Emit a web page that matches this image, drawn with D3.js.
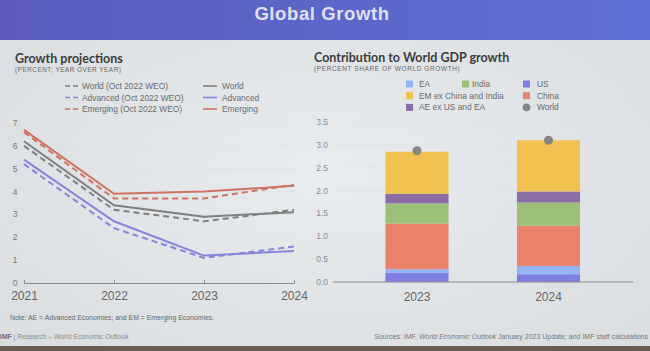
<!DOCTYPE html>
<html>
<head>
<meta charset="utf-8">
<script src="https://cdn.jsdelivr.net/npm/d3@7"></script>
<style>
  body { margin: 0; background: #e2e6e8; }
  svg { display: block; font-family: "Liberation Sans", Arial, sans-serif; }
</style>
</head>
<body>
<div id="chart"></div>
<script>
// Slide: Global Growth (IMF WEO Jan 2023)
// left = growth projections lines, right = contribution stacked bars

const years = ["2021", "2022", "2023", "2024"];
const world = [6.2, 3.4, 2.9, 3.1];
const advanced = [5.4, 2.7, 1.2, 1.4];
const emerging = [6.7, 3.9, 4.0, 4.25];
const worldOct = [6.0, 3.2, 2.7, 3.2];
const advancedOct = [5.2, 2.4, 1.1, 1.6];
const emergingOct = [6.6, 3.7, 3.7, 4.3];
const growthTicks = [0, 1, 2, 3, 4, 5, 6, 7];

const barYears = ["2023", "2024"];
const stackKeys = ["US", "EA", "China", "India", "AE ex US and EA", "EM ex China and India"];
const usShare = [0.20, 0.17];
const eaShare = [0.08, 0.18];
const chinaShare = [1.00, 0.88];
const indiaShare = [0.44, 0.51];
const aeShare = [0.21, 0.24];
const emShare = [0.92, 1.12];
const worldTotal = [2.87, 3.10];
const shareTicks = [0, 0.5, 1, 1.5, 2, 2.5, 3, 3.5];

const W = 650, H = 351;

const svg = d3.select("#chart").append("svg")
  .attr("width", W)
  .attr("height", H);

const defs = svg.append("defs");
const bg = defs.append("radialGradient").attr("id", "bg")
  .attr("cx", "50%").attr("cy", "50%").attr("r", "70%");
bg.append("stop").attr("offset", "0%").attr("stop-color", "#e9ecee");
bg.append("stop").attr("offset", "100%").attr("stop-color", "#d9dddf");
const ban = defs.append("linearGradient").attr("id", "ban");
ban.append("stop").attr("offset", "0%").attr("stop-color", "#5b5cbc");
ban.append("stop").attr("offset", "100%").attr("stop-color", "#5f70d6");

svg.append("rect").attr("width", W).attr("height", H).attr("fill", "url(#bg)");
svg.append("rect").attr("width", W).attr("height", 40).attr("fill", "url(#ban)");
svg.append("rect").attr("y", 346).attr("width", W).attr("height", 5).attr("fill", "#6b5c52");

svg.append("text")
  .attr("x", 322).attr("y", 20)
  .attr("text-anchor", "middle")
  .style("font-size", "18.5px")
  .style("font-weight", "bold")
  .style("letter-spacing", "0.6px")
  .attr("fill", "#dfe1ec")
  .text("Global Growth");

// ---------- left: growth projections ----------
svg.append("text")
  .attr("x", 15).attr("y", 63)
  .style("font-family", "Lato, 'Open Sans', sans-serif")
  .style("font-size", "12.5px")
  .style("font-weight", "bold")
  .attr("fill", "#3c3c3c")
  .text("Growth projections");

svg.append("text")
  .attr("x", 15).attr("y", 72)
  .style("font-size", "6.4px")
  .style("letter-spacing", "0.5px")
  .attr("fill", "#666")
  .text("(PERCENT; YEAR OVER YEAR)");

const x = d3.scalePoint()
  .domain(years)
  .range([24, 294]);

const y = d3.scaleLinear()
  .domain([0, 7])
  .range([283, 123]);

svg.append("g")
  .selectAll("line")
  .data(growthTicks.slice(1))
  .enter()
  .append("line")
  .attr("x1", 24).attr("x2", 294)
  .attr("y1", d => y(d)).attr("y2", d => y(d))
  .attr("stroke", "#dde1e3")
  .attr("stroke-width", 0.6);

svg.append("g")
  .selectAll("text")
  .data(growthTicks)
  .enter()
  .append("text")
  .attr("x", 15)
  .attr("y", d => y(d) + 3)
  .attr("text-anchor", "middle")
  .style("font-size", "8.5px")
  .attr("fill", "#777")
  .text(d => d);

const xAxis = svg.append("g")
  .attr("transform", `translate(0,${y(0)})`)
  .call(d3.axisBottom(x).tickSize(-3).tickPadding(8));
xAxis.select(".domain").attr("stroke", "#8a8a8a");
xAxis.selectAll(".tick line").attr("stroke", "#8a8a8a");
xAxis.selectAll("text")
  .style("font-size", "12px")
  .style("font-family", "'Liberation Sans', Arial, sans-serif")
  .attr("fill", "#666");

const series = [
  { name: "Emerging (Oct 2022 WEO)", values: emergingOct, color: "#cf7360", dash: "6,4" },
  { name: "World (Oct 2022 WEO)", values: worldOct, color: "#7f7f7f", dash: "6,4" },
  { name: "Advanced (Oct 2022 WEO)", values: advancedOct, color: "#8585db", dash: "6,4" },
  { name: "Emerging", values: emerging, color: "#cf7360", dash: null },
  { name: "World", values: world, color: "#7f7f7f", dash: null },
  { name: "Advanced", values: advanced, color: "#8585db", dash: null }
];

const line = d3.line()
  .x((d, i) => x(years[i]))
  .y(d => y(d));

svg.append("g")
  .selectAll("path")
  .data(series)
  .enter()
  .append("path")
  .attr("d", d => line(d.values))
  .attr("fill", "none")
  .attr("stroke", d => d.color)
  .attr("stroke-width", 2)
  .attr("stroke-dasharray", d => d.dash);

const lineLegend = [
  { name: "World (Oct 2022 WEO)", color: "#7f7f7f", dash: "5,3", col: 0, row: 0 },
  { name: "Advanced (Oct 2022 WEO)", color: "#8585db", dash: "5,3", col: 0, row: 1 },
  { name: "Emerging (Oct 2022 WEO)", color: "#cf7360", dash: "5,3", col: 0, row: 2 },
  { name: "World", color: "#7f7f7f", dash: null, col: 1, row: 0 },
  { name: "Advanced", color: "#8585db", dash: null, col: 1, row: 1 },
  { name: "Emerging", color: "#cf7360", dash: null, col: 1, row: 2 }
];

const ll = svg.append("g")
  .selectAll("g")
  .data(lineLegend)
  .enter()
  .append("g")
  .attr("transform", d => `translate(${d.col ? 203 : 65},${86 + d.row * 11.5})`);

ll.append("line")
  .attr("x1", 0).attr("x2", d => d.dash ? 13 : 14)
  .attr("stroke", d => d.color)
  .attr("stroke-width", 1.6)
  .attr("stroke-dasharray", d => d.dash);

ll.append("text")
  .attr("x", d => d.col ? 19 : 17)
  .attr("y", 3)
  .style("font-size", "8.4px")
  .attr("fill", "#6a6a6a")
  .text(d => d.name);

// ---------- right: contribution to world GDP growth ----------
svg.append("text")
  .attr("x", 314).attr("y", 62)
  .style("font-family", "Lato, 'Open Sans', sans-serif")
  .style("font-size", "12.5px")
  .style("font-weight", "bold")
  .attr("fill", "#3c3c3c")
  .text("Contribution to World GDP growth");

svg.append("text")
  .attr("x", 314).attr("y", 71)
  .style("font-size", "6.5px")
  .style("letter-spacing", "0.6px")
  .attr("fill", "#666")
  .text("(PERCENT SHARE OF WORLD GROWTH)");

const color = d3.scaleOrdinal()
  .domain(stackKeys)
  .range(["#7e7fe0", "#94b3f2", "#e9816b", "#9dc079", "#8c6ea6", "#f1c250"]);

const xb = d3.scaleBand()
  .domain(barYears)
  .range([351.25, 614.25])
  .paddingInner(0.52)
  .paddingOuter(0.26);

const yb = d3.scaleLinear()
  .domain([0, 3.5])
  .range([282, 122]);

const table = barYears.map((yr, i) => ({
  year: yr,
  "US": usShare[i],
  "EA": eaShare[i],
  "China": chinaShare[i],
  "India": indiaShare[i],
  "AE ex US and EA": aeShare[i],
  "EM ex China and India": emShare[i],
  world: worldTotal[i]
}));

const stacked = d3.stack().keys(stackKeys)(table);

svg.append("g")
  .selectAll("line")
  .data(shareTicks.slice(1))
  .enter()
  .append("line")
  .attr("x1", 333).attr("x2", 633)
  .attr("y1", d => yb(d)).attr("y2", d => yb(d))
  .attr("stroke", "#dde1e3")
  .attr("stroke-width", 0.6);

svg.append("g")
  .selectAll("text")
  .data(shareTicks)
  .enter()
  .append("text")
  .attr("x", 328)
  .attr("y", d => yb(d) + 3)
  .attr("text-anchor", "end")
  .style("font-size", "8.5px")
  .attr("fill", "#8a8f96")
  .text(d => d.toFixed(1));

svg.append("g")
  .selectAll("g")
  .data(stacked)
  .enter()
  .append("g")
  .attr("fill", d => color(d.key))
  .selectAll("rect")
  .data(d => d)
  .enter()
  .append("rect")
  .attr("x", d => xb(d.data.year))
  .attr("y", d => yb(d[1]))
  .attr("width", xb.bandwidth())
  .attr("height", d => yb(d[0]) - yb(d[1]));

svg.append("line")
  .attr("x1", 333).attr("x2", 633)
  .attr("y1", yb(0)).attr("y2", yb(0))
  .attr("stroke", "#8a8a8a")
  .attr("stroke-width", 1);

svg.append("g")
  .selectAll("circle")
  .data(table)
  .enter()
  .append("circle")
  .attr("cx", d => xb(d.year) + xb.bandwidth() / 2)
  .attr("cy", d => yb(d.world))
  .attr("r", 4.5)
  .attr("fill", "#858585");

svg.append("g")
  .selectAll("text")
  .data(barYears)
  .enter()
  .append("text")
  .attr("x", d => xb(d) + xb.bandwidth() / 2)
  .attr("y", 301)
  .attr("text-anchor", "middle")
  .style("font-size", "12px")
  .attr("fill", "#666")
  .text(d => d);

const barLegend = [
  { name: "EA", key: "EA", col: 0, row: 0 },
  { name: "EM ex China and India", key: "EM ex China and India", col: 0, row: 1 },
  { name: "AE ex US and EA", key: "AE ex US and EA", col: 0, row: 2 },
  { name: "India", key: "India", col: 1, row: 0 },
  { name: "US", key: "US", col: 2, row: 0 },
  { name: "China", key: "China", col: 2, row: 1 },
  { name: "World", key: null, col: 2, row: 2 }
];
const colX = [406, 462, 523];

const bl = svg.append("g")
  .selectAll("g")
  .data(barLegend)
  .enter()
  .append("g")
  .attr("transform", d => `translate(${colX[d.col]},${84 + d.row * 11.7})`);

bl.filter(d => d.key)
  .append("rect")
  .attr("x", 0).attr("y", -3.5)
  .attr("width", 7).attr("height", 7)
  .attr("fill", d => color(d.key));

bl.filter(d => !d.key)
  .append("circle")
  .attr("cx", 3.5).attr("cy", 0)
  .attr("r", 3.8)
  .attr("fill", "#858585");

bl.append("text")
  .attr("x", d => d.col === 2 ? 14 : (d.col === 1 ? 10 : 13))
  .attr("y", 3)
  .style("font-size", "8.4px")
  .attr("fill", "#6a6a6a")
  .text(d => d.name);

// ---------- notes and footer ----------
svg.append("text")
  .attr("x", 10).attr("y", 320)
  .style("font-size", "6.9px")
  .attr("fill", "#666")
  .text("Note: AE = Advanced Economies; and EM = Emerging Economies.");

const foot = svg.append("text")
  .attr("x", 0).attr("y", 339)
  .style("font-size", "6.8px")
  .attr("fill", "#888");
foot.append("tspan").style("font-weight", "bold").attr("fill", "#6a6a8a").text("IMF");
foot.append("tspan").text(" | Research – World Economic Outlook");

const src = svg.append("text")
  .attr("x", 648).attr("y", 339)
  .attr("text-anchor", "end")
  .style("font-size", "7px")
  .attr("fill", "#777");
src.append("tspan").text("Sources: IMF, ");
src.append("tspan").style("font-style", "italic").text("World Economic Outlook");
src.append("tspan").text(" January 2023 Update; and IMF staff calculations");
</script>
</body>
</html>
